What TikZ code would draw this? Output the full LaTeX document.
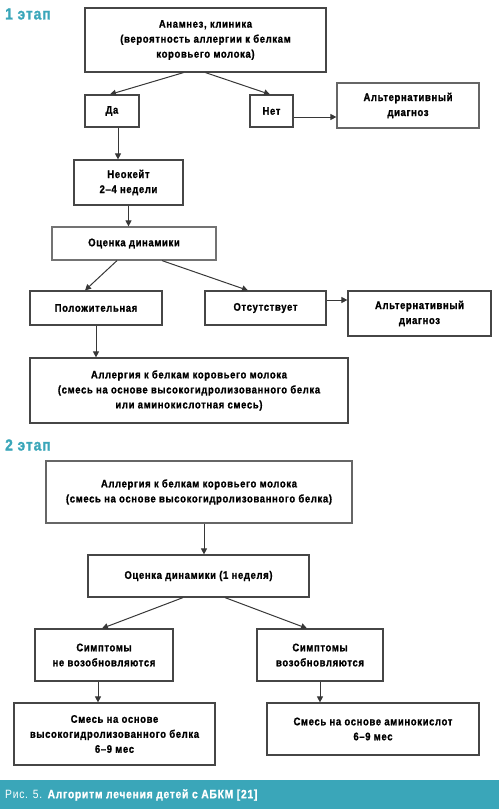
\documentclass[tikz,border=0pt]{standalone}
\usepackage{fontspec}
\setmainfont{Liberation Sans}[FakeStretch=0.86,LetterSpace=6,BoldFeatures={FakeBold=1.2}]
\usetikzlibrary{arrows.meta}
\definecolor{teal1}{RGB}{58,166,185}
\definecolor{lin}{RGB}{55,55,55}
\definecolor{brd}{RGB}{70,70,70}
\begin{document}
\begin{tikzpicture}[x=1pt,y=-1pt,
  box/.style={draw=brd, line width=1.2pt, inner sep=0pt, align=center,
    font=\bfseries\fontsize{11}{15}\selectfont},
  arr/.style={-{Triangle[length=6pt,width=6pt]}, draw=lin, line width=1pt},
  stage/.style={anchor=west, text=teal1, inner sep=0pt, font=\bfseries\fontsize{16}{18}\selectfont}]
\useasboundingbox (0,0) rectangle (499,809);
\node[stage] (s1) at (5,14) {1 этап};
\node[box, minimum width=241, minimum height=64] (A) at (205.5,40) {Анамнез, клиника\\(вероятность аллергии к белкам\\коровьего молока)};
\node[box, minimum width=54, minimum height=32] (da) at (112,111) {Да};
\node[box, minimum width=43, minimum height=32] (no) at (271.5,111) {Нет};
\node[box, draw=black!60, minimum width=142, minimum height=45] (alt1) at (408,105.5) {Альтернативный\\диагноз};
\node[box, minimum width=109, minimum height=45] (neo) at (128.5,182.5) {Неокейт\\2–4 недели};
\node[box, draw=black!55, minimum width=164, minimum height=33] (ev1) at (134,243.5) {Оценка динамики};
\node[box, minimum width=132, minimum height=34] (pos) at (96,308) {Положительная};
\node[box, minimum width=121, minimum height=34] (abs) at (265.5,308) {Отсутствует};
\node[box, minimum width=143, minimum height=45] (alt2) at (419.5,313.5) {Альтернативный\\диагноз};
\node[box, minimum width=318, minimum height=65] (all1) at (189,390.5) {Аллергия к белкам коровьего молока\\(смесь на основе высокогидролизованного белка\\или аминокислотная смесь)};
\node[stage] (s2) at (5,445) {2 этап};
\node[box, draw=black!60, minimum width=306, minimum height=62] (all2) at (199,492) {Аллергия к белкам коровьего молока\\(смесь на основе высокогидролизованного белка)};
\node[box, minimum width=221, minimum height=42] (ev2) at (198.5,576) {Оценка динамики (1 неделя)};
\node[box, minimum width=138, minimum height=52] (sno) at (104,655) {Симптомы\\не возобновляются};
\node[box, minimum width=126, minimum height=52] (syes) at (320,655) {Симптомы\\возобновляются};
\node[box, minimum width=201, minimum height=62] (mixl) at (114.5,734) {Смесь на основе\\высокогидролизованного белка\\6–9 мес};
\node[box, minimum width=212, minimum height=52] (mixr) at (373,729) {Смесь на основе аминокислот\\6–9 мес};
% arrows
\draw[arr] ([xshift=-22pt]A.south) -- ([xshift=-2pt]da.north);
\draw[arr] (A.south) -- ([xshift=-1.5pt]no.north);
\draw[arr] ([yshift=-6pt]no.east) -- ([yshift=-6pt]no.east -| alt1.west);
\draw[arr] ([xshift=6pt]da.south) -- ([xshift=6pt]da.south |- neo.north);
\draw[arr] (neo.south) -- (neo.south |- ev1.north);
\draw[arr] ([xshift=-17pt]ev1.south) -- ([xshift=-11pt]pos.north);
\draw[arr] ([xshift=28pt]ev1.south) -- ([xshift=-17.5pt]abs.north);
\draw[arr] ([yshift=8pt]abs.east) -- ([yshift=8pt]abs.east -| alt2.west);
\draw[arr] (pos.south) -- (pos.south |- all1.north);
\draw[arr] ([xshift=5pt]all2.south) -- ([xshift=5pt]all2.south |- ev2.north);
\draw[arr] ([xshift=-15.5pt]ev2.south) -- ([xshift=-2pt]sno.north);
\draw[arr] ([xshift=26.5pt]ev2.south) -- ([xshift=-13pt]syes.north);
\draw[arr] ([xshift=-6pt]sno.south) -- ([xshift=-6pt]sno.south |- mixl.north);
\draw[arr] (syes.south) -- (syes.south |- mixr.north);
% caption
\fill[teal1] (0,780) rectangle (499,809);
\node[anchor=west, text=white, inner sep=0pt, font=\fontsize{12}{14}\selectfont] (cap) at (5,795) {Рис. 5. \textbf{Алгоритм лечения детей с АБКМ [21]}};
\end{tikzpicture}
\end{document}
